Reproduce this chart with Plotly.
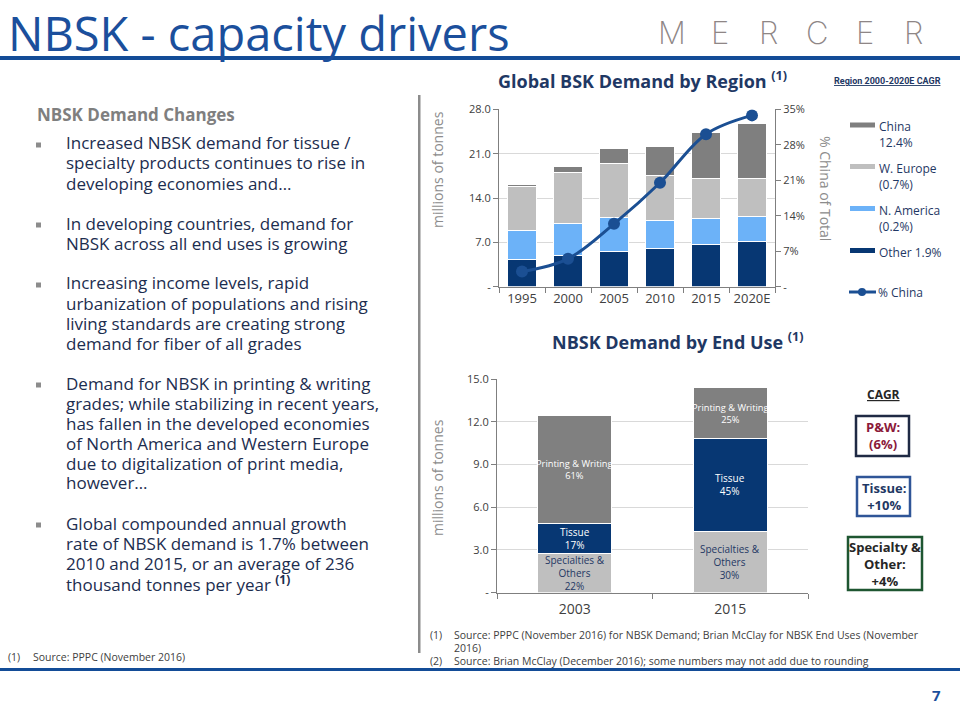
import plotly.graph_objects as go

# ---------------- data ----------------
# Global BSK demand by region (millions of tonnes)
years = ["1995", "2000", "2005", "2010", "2015", "2020E"]
other = [4.3, 5.0, 5.5, 6.05, 6.6, 7.1]
n_america = [4.5, 5.0, 5.4, 4.35, 4.15, 4.05]
w_europe = [7.0, 8.0, 8.5, 7.2, 6.3, 5.9]
china = [0.4, 0.95, 2.4, 4.5, 7.25, 8.75]
pct_china = [3.0, 5.5, 12.4, 20.5, 30.1, 33.8]
top_left_tickvals = [0, 7, 14, 21, 28]
top_left_ticktext = ["-", "7.0", "14.0", "21.0", "28.0"]
top_right_tickvals = [0, 7, 14, 21, 28, 35]
top_right_ticktext = ["-", "7%", "14%", "21%", "28%", "35%"]
legend_lines = [["China", "12.4%"], ["W. Europe", "(0.7%)"], ["N. America", "(0.2%)"], ["Other 1.9%"]]

# NBSK demand by end use (millions of tonnes)
end_years = ["2003", "2015"]
specialties = [2.76, 4.32]
tissue = [2.1, 6.5]
printing = [7.57, 3.55]
spec_pct = ["22%", "30%"]
tissue_pct = ["17%", "45%"]
pw_pct = ["61%", "25%"]
bottom_tickvals = [0, 3, 6, 9, 12, 15]
bottom_ticktext = ["-", "3.0", "6.0", "9.0", "12.0", "15.0"]
cagr_boxes = [["P&W:", "(6%)"], ["Tissue:", "+10%"], ["Specialty &", "Other:", "+4%"]]

bullets = [
    ["Increased NBSK demand for tissue /", "specialty products continues to rise in", "developing economies and\u2026"],
    ["In developing countries, demand for", "NBSK across all end uses is growing"],
    ["Increasing income levels, rapid", "urbanization of populations and rising", "living standards are creating strong", "demand for fiber of all grades"],
    ["Demand for NBSK in printing & writing", "grades; while stabilizing in recent years,", "has fallen in the developed economies",
     "of North America and Western Europe", "due to digitalization of print media,", "however\u2026"],
    ["Global compounded annual growth", "rate of NBSK demand is 1.7% between", "2010 and 2015, or an average of 236",
     "thousand tonnes per year <b><sup>(1)</sup></b>"],
]

# ---------------- styling ----------------
W, H = 960, 720
def px(x): return x / W
def py(y): return 1 - y / H

NAVY = "#073773"
LBLUE = "#6CB2F8"
LGRAY = "#BFBFBF"
DGRAY = "#7F7F7F"
LINE = "#1B4F93"
TITLE_BLUE = "#1B4F9C"
TXT = "#1C2D4F"
TICK = "#404040"
FONT = "Open Sans"

fig = go.Figure()

bw_top = 0.61
for name, vals, col in [("Other", other, NAVY), ("N. America", n_america, LBLUE),
                        ("W. Europe", w_europe, LGRAY), ("China", china, DGRAY)]:
    fig.add_trace(go.Bar(x=years, y=vals, name=name, marker=dict(color=col, line=dict(color="white", width=1)),
                         width=bw_top, xaxis="x", yaxis="y", hoverinfo="skip"))
fig.add_trace(go.Scatter(x=years, y=pct_china, name="% China", mode="lines+markers",
                         line=dict(color=LINE, width=3, shape="spline"),
                         marker=dict(size=12, color=LINE), xaxis="x", yaxis="y2"))

bw_bot = 0.476
bottom_series = [("Specialties &<br>Others<br>", specialties, spec_pct, LGRAY, "#1F3864", 10),
                 ("Tissue<br>", tissue, tissue_pct, NAVY, "white", 10),
                 ("Printing & Writing<br>", printing, pw_pct, "#808080", "white", 9.3)]
ann = []
base = [0.0] * len(end_years)
for label, vals, pcts, col, tcol, fs in bottom_series:
    fig.add_trace(go.Bar(x=end_years, y=vals, marker=dict(color=col, line=dict(color="white", width=1)),
                         width=bw_bot, xaxis="x2", yaxis="y3", hoverinfo="skip"))
    for i, (v, p) in enumerate(zip(vals, pcts)):
        # category axis: annotation x is the category's serial index
        ann.append(dict(x=i, y=base[i] + v / 2, xref="x2", yref="y3", text=label + p, showarrow=False,
                        xanchor="center", yanchor="middle", align="center",
                        font=dict(size=fs, color=tcol, family=FONT)))
        base[i] += v

axis_common = dict(showline=True, linecolor="#7F7F7F", linewidth=1, ticks="outside", ticklen=5,
                   tickcolor="#7F7F7F", automargin=False, tickfont=dict(size=11, color=TICK, family=FONT))

fig.update_layout(
    width=W, height=H, margin=dict(l=0, r=0, t=0, b=0, autoexpand=False),
    paper_bgcolor="white", plot_bgcolor="white", showlegend=False, barmode="stack",
    font=dict(family=FONT),
    xaxis=dict(type="category", domain=[px(499), px(775)], anchor="y", tickson="boundaries",
               **{**axis_common, "tickfont": dict(size=13, color=TICK, family=FONT)}),
    yaxis=dict(domain=[py(286.7), py(109.3)], anchor="x", range=[0, 28], tickvals=top_left_tickvals,
               ticktext=top_left_ticktext, showgrid=True, gridcolor="#D9D9D9", zeroline=False, **axis_common),
    yaxis2=dict(overlaying="y", side="right", anchor="x", range=[0, 35], tickvals=top_right_tickvals,
                ticktext=top_right_ticktext, showgrid=False, zeroline=False, **axis_common),
    xaxis2=dict(type="category", domain=[px(497), px(808)], anchor="y3", tickson="boundaries",
                ticklabelstandoff=4, **{**axis_common, "tickfont": dict(size=14, color=TICK, family=FONT)}),
    yaxis3=dict(domain=[py(592.5), py(379)], anchor="x2", range=[0, 15], tickvals=bottom_tickvals,
                ticktext=bottom_ticktext, showgrid=True, gridcolor="#D9D9D9", zeroline=False, **axis_common),
)

shapes = []

def text(x, y, s, size, color, xanchor="left", yanchor="middle", family=FONT, angle=0, weight=None, align="left"):
    f = dict(size=size, color=color, family=family)
    if weight is not None:
        f["weight"] = weight
    ann.append(dict(x=px(x), y=py(y), xref="paper", yref="paper", text=s, showarrow=False,
                    xanchor=xanchor, yanchor=yanchor, textangle=angle, font=f, align=align))

# Header
text(6, 33, "NBSK - capacity drivers", 47, TITLE_BLUE)
for i, ch in enumerate("MERCER"):
    text(672 + i * 48.2, 33, ch, 31, "#8E8686", xanchor="center", family="Inter", weight=200)
shapes.append(dict(type="rect", xref="paper", yref="paper", x0=0, x1=1, y0=py(60), y1=py(56),
                   fillcolor="#134C97", line=dict(width=0)))
shapes.append(dict(type="rect", xref="paper", yref="paper", x0=0, x1=1, y0=py(671), y1=py(668),
                   fillcolor="#134C97", line=dict(width=0)))
shapes.append(dict(type="rect", xref="paper", yref="paper", x0=px(418), x1=px(420.5), y0=py(653), y1=py(95),
                   fillcolor="#8C8C8C", line=dict(width=0)))

# Left text block
text(35, 115, "<b>NBSK Demand Changes</b>", 17, DGRAY)
y = 143
for b in bullets:
    shapes.append(dict(type="rect", xref="paper", yref="paper", x0=px(36), x1=px(41), y0=py(y + 4.5), y1=py(y - 0.5),
                       fillcolor="#8C8C8C", line=dict(width=0)))
    for line in b:
        text(64, y, line, 17, TXT)
        y += 20
    y += 20
text(6, 657, "(1)", 10.5, TICK)
text(31, 657, "Source: PPPC (November 2016)", 10.5, TICK)

# Right footnotes
text(428, 635, "(1)", 10.5, TICK)
text(452, 635, "Source: PPPC (November 2016) for NBSK Demand; Brian McClay for NBSK End Uses (November", 10.5, TICK)
text(452, 648, "2016)", 10.5, TICK)
text(428, 661, "(2)", 10.5, TICK)
text(452, 661, "Source: Brian McClay (December 2016); some numbers may not add due to rounding", 10.5, TICK)
text(943, 695, "<b>7</b>", 15, TITLE_BLUE, xanchor="right")

# Top chart titles
text(642, 80, "<b>Global BSK Demand by Region <sup>(1)</sup></b>", 18, "#1F3864", xanchor="center")
text(832, 81, "<b><u>Region 2000-2020E CAGR</u></b>", 9, "#1F3864", family="Roboto")
text(437, 170, "millions of tonnes", 14, "#8C8C8C", xanchor="center", angle=-90)
text(825, 188, "% China of Total", 14, "#8C8C8C", xanchor="center", angle=90)

# Custom legend
leg_cols = [DGRAY, LGRAY, LBLUE, NAVY]
leg_y = [125, 166.5, 208.5, 250.5]
for lines, col, ly in zip(legend_lines, leg_cols, leg_y):
    shapes.append(dict(type="rect", xref="paper", yref="paper", x0=px(850), x1=px(875), y0=py(ly + 2.5), y1=py(ly - 2.5),
                       fillcolor=col, line=dict(width=0)))
    text(877, ly - 9, "<br>".join(lines), 12, "#1F3864", yanchor="top")
shapes.append(dict(type="line", xref="paper", yref="paper", x0=px(849), x1=px(876), y0=py(292), y1=py(292),
                   line=dict(color=LINE, width=3)))
shapes.append(dict(type="circle", xref="paper", yref="paper", x0=px(858), x1=px(866), y0=py(296), y1=py(288),
                   fillcolor=LINE, line=dict(width=0)))
text(876, 292, "% China", 12, "#1F3864")

# Bottom chart titles
text(678, 341, "<b>NBSK Demand by End Use <sup>(1)</sup></b>", 18, "#1F3864", xanchor="center")
text(437, 478, "millions of tonnes", 14, "#8C8C8C", xanchor="center", angle=-90)

# CAGR boxes
text(883, 394, "<b><u>CAGR</u></b>", 12, "#262626", xanchor="center")
box_specs = [(856, 909, 416, 456, "#1F2A44", "#8B1A3A"),
             (857, 910, 477, 516, "#2F5597", "#1F3864"),
             (848, 922, 537, 590, "#1E5631", "#262626")]
for lines, (x0, x1, y0, y1, bc, tc) in zip(cagr_boxes, box_specs):
    shapes.append(dict(type="rect", xref="paper", yref="paper", x0=px(x0), x1=px(x1), y0=py(y1), y1=py(y0),
                       fillcolor="white", line=dict(color=bc, width=2.5)))
    text((x0 + x1) / 2, (y0 + y1) / 2, "<b>" + "<br>".join(lines) + "</b>", 13, tc, xanchor="center", align="center")

fig.update_layout(shapes=shapes, annotations=ann)

fig.write_html("out.html", config={"displayModeBar": False})
with open("out.html", "r", encoding="utf-8") as f:
    html = f.read()
html = html.replace("<head>", "<head><style>html,body{margin:0;padding:0;overflow:hidden;}</style>", 1)
with open("out.html", "w", encoding="utf-8") as f:
    f.write(html)
